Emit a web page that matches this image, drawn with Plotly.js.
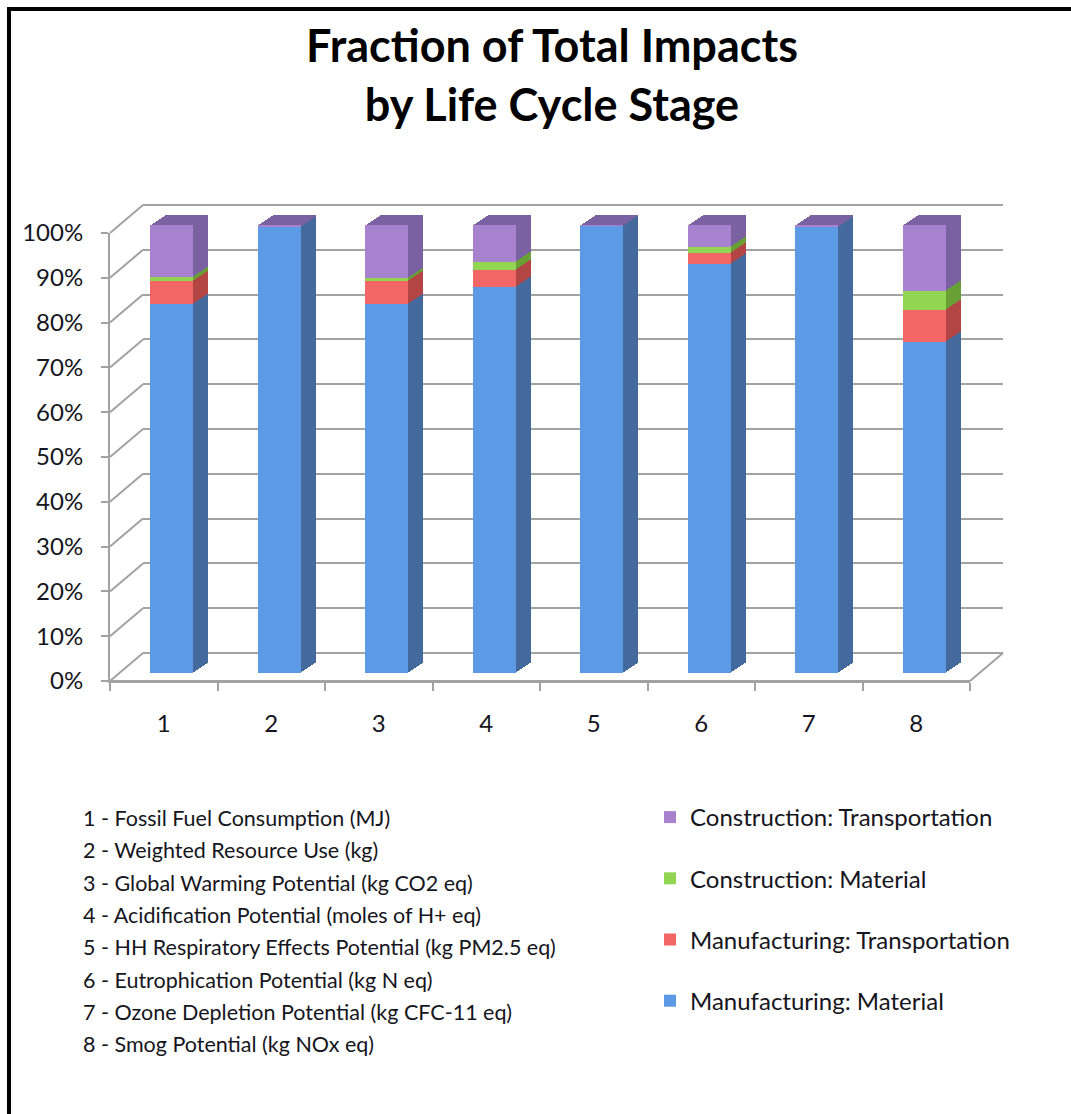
<!DOCTYPE html>
<html>
<head>
<meta charset="utf-8">
<script src="https://cdn.plot.ly/plotly-3.0.1.min.js"></script>
<style>
  html, body { margin: 0; padding: 0; background: #ffffff; }
  #chart { width: 1071px; height: 1114px; position: relative; }
  #frame {
    position: absolute; left: 7px; top: 7px; width: 2000px; height: 2000px;
    border-left: 4px solid #000; border-top: 4px solid #000;
    pointer-events: none; z-index: 10;
  }
</style>
</head>
<body>
<div id="chart"></div>
<div id="frame"></div>
<script>
// Impact categories (x axis) and their descriptions
const categories = ['1', '2', '3', '4', '5', '6', '7', '8'];
const metricNames = [
  '1 - Fossil Fuel Consumption (MJ)',
  '2 - Weighted Resource Use (kg)',
  '3 - Global Warming Potential (kg CO2 eq)',
  '4 - Acidification Potential (moles of H+ eq)',
  '5 - HH Respiratory Effects Potential (kg PM2.5 eq)',
  '6 - Eutrophication Potential (kg N eq)',
  '7 - Ozone Depletion Potential (kg CFC-11 eq)',
  '8 - Smog Potential (kg NOx eq)'
];

// Share of total impact (%) per life cycle stage, stacked bottom to top
const mfgMaterial   = [82.3, 99.6, 82.4, 86.1, 99.7, 91.4, 99.6, 73.9];
const mfgTransport  = [5.2, 0.05, 5.0, 3.8, 0.05, 2.4, 0.05, 7.2];
const conMaterial   = [0.9, 0.0, 0.8, 1.9, 0.0, 1.3, 0.0, 4.2];
const conTransport  = [11.6, 0.35, 11.8, 8.2, 0.25, 4.9, 0.35, 14.7];

const seriesNames = [
  'Manufacturing: Material',
  'Manufacturing: Transportation',
  'Construction: Material',
  'Construction: Transportation'
];

const yTicks = [0, 10, 20, 30, 40, 50, 60, 70, 80, 90, 100];
const yTickText = yTicks.map(v => v + '%');

// ---- styling / geometry ----
const FONT = 'Lato, "Open Sans", sans-serif';
const TEXT = '#151520';
const GRID = '#a2a2a2';
const faceColors = ['#5d9ae6', '#f26666', '#92d552', '#a882cf'];
const sideColors = ['#44699c', '#b44545', '#68a035', '#7a62a2'];

const PAGE_W = 1071, PAGE_H = 1114;
const L = 100, R = 1010, T = 195, B = 690;      // outer plotting box (px)
const PW = R - L, PH = B - T;
const FRONT = { left: 110, top: 233, w: 860, h: 448 };  // front plane of the box
const WALL = [33, 28];                          // depth of back wall (px)
const BAR_FRONT = [8, 8];                       // bar front face offset
const BAR_DEPTH = [15, 10];                     // extrusion of each bar
const DEPTH_STEPS = 10;                         // layers used to build the extrusion
const X_RANGE = [-0.5, 7.5];

// domain for a plane shifted (dx right, dy up) from the front plane,
// optionally padded vertically by `pad` value units on both ends
function dom(dx, dy, pad) {
  pad = pad || 0;
  const ext = pad * FRONT.h / 100;
  const left = FRONT.left + dx, top = FRONT.top - dy - ext;
  const bottom = FRONT.top + FRONT.h - dy + ext;
  return {
    x: [(left - L) / PW, (left + FRONT.w - L) / PW],
    y: [(B - bottom) / PH, (B - top) / PH]
  };
}
const px2paperX = px => (px - L) / PW;
const px2paperY = py => (B - py) / PH;
const frontY = v => FRONT.top + FRONT.h * (1 - v / 100);

const xs = categories.map((c, i) => i);
const stacks = [mfgMaterial, mfgTransport, conMaterial, conTransport];

const layout = {
  width: PAGE_W, height: PAGE_H,
  margin: { l: L, r: PAGE_W - R, t: T, b: PAGE_H - B },
  paper_bgcolor: '#ffffff', plot_bgcolor: 'rgba(0,0,0,0)',
  barmode: 'stack', bargap: 0.6,
  font: { family: FONT, color: TEXT },
  title: {
    text: 'Fraction of Total Impacts<br>by Life Cycle Stage',
    xref: 'container', yref: 'container',
    x: 552 / PAGE_W, xanchor: 'center',
    y: 1 - 62 / PAGE_H, yanchor: 'top',
    font: { family: FONT, size: 45, color: '#000', weight: 'bold' }
  },
  showlegend: true
};

const hiddenX = d => ({ domain: d.x, range: X_RANGE, type: 'linear', visible: false, fixedrange: true });
const hiddenY = d => ({ domain: d.y, range: [0, 100], type: 'linear', visible: false, fixedrange: true });

// back wall with gridlines (subplot x/y), padded so the 0% and 100% lines are interior
const WALL_PAD = 1;
const dWall = dom(WALL[0], WALL[1], WALL_PAD);
layout.xaxis = { domain: dWall.x, range: X_RANGE, type: 'linear', showgrid: false, zeroline: false,
                 showticklabels: false, ticks: '', fixedrange: true, anchor: 'y' };
layout.yaxis = { domain: dWall.y, range: [-WALL_PAD, 100 + WALL_PAD], tick0: 0, dtick: 10,
                 showgrid: true, gridcolor: GRID, gridwidth: 2,
                 zeroline: false, showticklabels: false, ticks: '', fixedrange: true, anchor: 'x' };

const traces = [];
// extrusion layers, deepest first; each is a darker copy of the stack
let axisNum = 2;
for (let s = DEPTH_STEPS; s >= 1; s--) {
  const d = dom(BAR_FRONT[0] + BAR_DEPTH[0] * s / DEPTH_STEPS, BAR_FRONT[1] + BAR_DEPTH[1] * s / DEPTH_STEPS);
  layout['xaxis' + axisNum] = Object.assign(hiddenX(d), { anchor: 'y' + axisNum });
  layout['yaxis' + axisNum] = Object.assign(hiddenY(d), { anchor: 'x' + axisNum });
  stacks.forEach((vals, k) => {
    traces.push({
      type: 'bar', x: xs, y: vals, xaxis: 'x' + axisNum, yaxis: 'y' + axisNum,
      width: 0.4, marker: { color: sideColors[k], line: { width: 0 } },
      name: seriesNames[k], showlegend: false, hoverinfo: 'skip'
    });
  });
  axisNum++;
}

// front faces
const frontNum = axisNum;
const dFront = dom(BAR_FRONT[0], BAR_FRONT[1]);
layout['xaxis' + frontNum] = Object.assign(hiddenX(dFront), { anchor: 'y' + frontNum });
layout['yaxis' + frontNum] = Object.assign(hiddenY(dFront), { anchor: 'x' + frontNum });
stacks.forEach((vals, k) => {
  traces.push({
    type: 'bar', x: xs, y: vals, xaxis: 'x' + frontNum, yaxis: 'y' + frontNum,
    width: 0.4, marker: { color: faceColors[k], line: { width: 0 } },
    name: seriesNames[k], legendgroup: 'g' + k, legendrank: 4 - k, showlegend: true,
    hovertemplate: '%{y:.1f}%<extra>' + seriesNames[k] + '</extra>'
  });
});

// front plane: visible axes and labels
const axNum = frontNum + 1;
const dAxis = dom(0, 0);
const ax = 'x' + axNum, ay = 'y' + axNum;
layout['xaxis' + axNum] = {
  domain: dAxis.x, range: X_RANGE, type: 'linear', anchor: ay,
  tickmode: 'array', tickvals: xs, ticktext: categories, ticks: '',
  showline: true, linecolor: GRID, linewidth: 2,
  minor: { tick0: -0.5, dtick: 1, ticks: 'outside', ticklen: 8, tickcolor: GRID, tickwidth: 2, showgrid: false },
  showgrid: false, zeroline: false, fixedrange: true,
  ticklabelstandoff: 20,
  tickfont: { family: FONT, size: 24, color: TEXT }
};
layout['yaxis' + axNum] = {
  domain: dAxis.y, range: [0, 100], type: 'linear', anchor: ax,
  tickmode: 'array', tickvals: yTicks, ticktext: yTickText,
  ticks: 'outside', ticklen: 7, tickcolor: GRID, tickwidth: 2,
  showline: true, linecolor: GRID, linewidth: 2,
  showgrid: false, zeroline: false, fixedrange: true,
  ticklabelstandoff: 13,
  tickfont: { family: FONT, size: 24, color: TEXT }
};

// left wall: lines joining each front tick to the matching back-wall gridline
const shapes = yTicks.map(v => ({
  type: 'line', xref: 'paper', yref: 'paper',
  x0: px2paperX(FRONT.left), y0: px2paperY(frontY(v)),
  x1: px2paperX(FRONT.left + WALL[0]), y1: px2paperY(frontY(v) - WALL[1]),
  line: { color: GRID, width: 2 }
}));
// floor: right-hand edge
shapes.push({
  type: 'line', xref: 'paper', yref: 'paper',
  x0: px2paperX(FRONT.left + FRONT.w), y0: px2paperY(frontY(0)),
  x1: px2paperX(FRONT.left + FRONT.w + WALL[0]), y1: px2paperY(frontY(0) - WALL[1]),
  line: { color: GRID, width: 2 }
});
// floor: back edge on the wall plane, and the front-plane baseline
shapes.push({
  type: 'line', xref: 'x', yref: 'y', x0: X_RANGE[0], x1: X_RANGE[1], y0: 0, y1: 0,
  line: { color: GRID, width: 2 }, layer: 'below'
});
shapes.push({
  type: 'line', xref: ax, yref: ay, x0: X_RANGE[0], x1: X_RANGE[1], y0: 0, y1: 0,
  line: { color: GRID, width: 2 }
});
layout.shapes = shapes;

layout.annotations = metricNames.map((t, i) => ({
  text: t, xref: 'paper', yref: 'paper',
  x: px2paperX(81), y: px2paperY(818 + i * 32.3),
  xanchor: 'left', yanchor: 'middle', showarrow: false,
  font: { family: FONT, size: 21.5, color: TEXT }
}));

layout.legend = {
  x: px2paperX(650), xanchor: 'left',
  y: px2paperY(795), yanchor: 'top',
  traceorder: 'grouped', tracegroupgap: 27,
  font: { family: FONT, size: 24, color: TEXT },
  bgcolor: 'rgba(0,0,0,0)', borderwidth: 0
};

Plotly.newPlot('chart', traces, layout, { displayModeBar: false, staticPlot: true });
</script>
</body>
</html>
